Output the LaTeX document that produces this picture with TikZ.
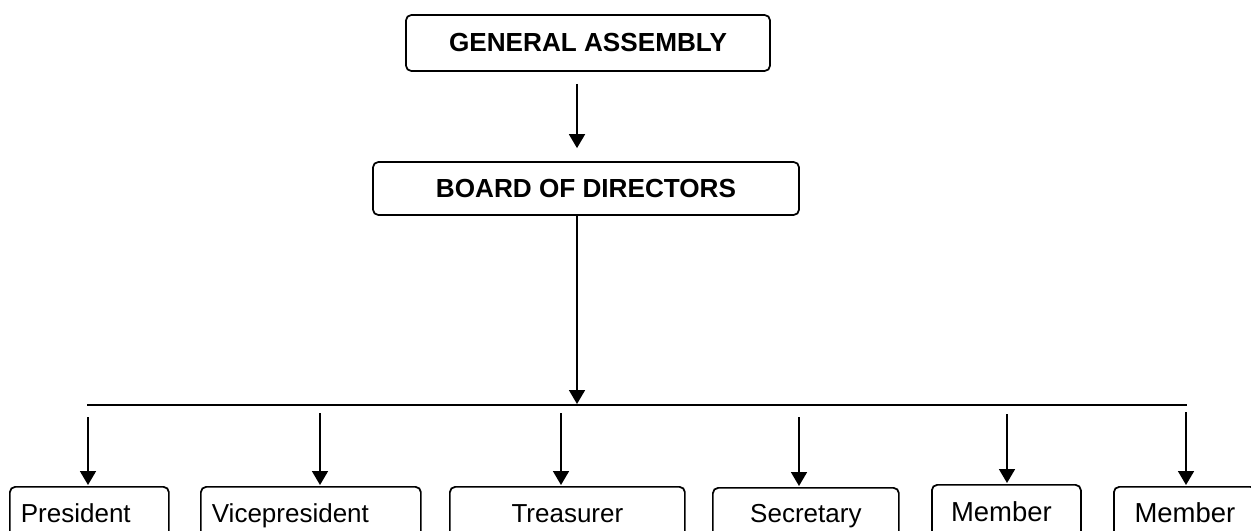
\documentclass[tikz,border=0pt]{standalone}
\usepackage{fontspec}
\setmainfont{Liberation Sans}
\usetikzlibrary{arrows.meta}
\newcommand\pxl[1]{#1*0.75pt}
\begin{document}
\begin{tikzpicture}[x=0.75pt,y=-0.75pt,
  topbox/.style={draw, line width=1.3pt, rounded corners=4pt, inner sep=0pt,
    font=\bfseries\fontsize{19.6}{23}\selectfont},
  lowbox/.style={draw, line width=1.3pt, rounded corners=4pt, inner sep=0pt,
    anchor=north west, font=\fontsize{19.5}{23}\selectfont,
    text height=\pxl{35.5}, text depth=\pxl{40}},
  membox/.style={lowbox, font=\fontsize{20.6}{24}\selectfont},
  arr/.style={-{Triangle[width=12pt,length=10.5pt]}, line width=1.3pt},
  bar/.style={line width=2pt}]
\useasboundingbox (0,0) rectangle (1251,531);
\clip (0,0) rectangle (1251,531);

% top boxes
\node[topbox, minimum width=\pxl{364}, minimum height=\pxl{56}] (ga) at (588,43) {GENERAL ASSEMBLY};
\node[topbox, minimum width=\pxl{426}, minimum height=\pxl{53}] (bod) at (586,188.5) {BOARD OF DIRECTORS};

% bottom boxes
\node[lowbox, align=left, inner xsep=\pxl{11}, text width=\pxl{137}] (pres) at (9,486) {President};
\node[lowbox, align=left, inner xsep=\pxl{11}, text width=\pxl{198}] (vice) at (200,486) {Vicepresident};
\node[lowbox, minimum width=\pxl{235}] (treas) at (449,486) {Treasurer};
\node[lowbox, minimum width=\pxl{186}, text height=\pxl{34.5}] (sec) at (712,487) {Secretary};
\node[membox, minimum width=\pxl{149}, text height=\pxl{37}] (mem1) at (931,484) {Member\hspace*{7.5pt}};
\node[membox, minimum width=\pxl{142}] (mem2) at (1113,486) {Member};

% connectors
\coordinate (c0) at (577,0);
\draw[arr, shorten <=\pxl{12}, shorten >=\pxl{13}] (ga.south -| c0) -- (bod.north -| c0);

\coordinate (bL) at (87,405);
\coordinate (bR) at (1187,405);
\coordinate (bM) at (577,404);
\draw[bar] (bL) -- (bR);
\draw[arr] (bod.south -| bM) -- (bM);

\coordinate (s1) at (88,417);
\coordinate (s2) at (320,413);
\coordinate (s3) at (561,413);
\coordinate (s4) at (799,417);
\coordinate (s5) at (1007,414);
\coordinate (s6) at (1186,412);
\draw[arr, shorten >=\pxl{1}] (s1) -- (s1 |- pres.north);
\draw[arr, shorten >=\pxl{1}] (s2) -- (s2 |- vice.north);
\draw[arr, shorten >=\pxl{1}] (s3) -- (s3 |- treas.north);
\draw[arr, shorten >=\pxl{1}] (s4) -- (s4 |- sec.north);
\draw[arr, shorten >=\pxl{1}] (s5) -- (s5 |- mem1.north);
\draw[arr, shorten >=\pxl{1}] (s6) -- (s6 |- mem2.north);
\end{tikzpicture}
\end{document}
